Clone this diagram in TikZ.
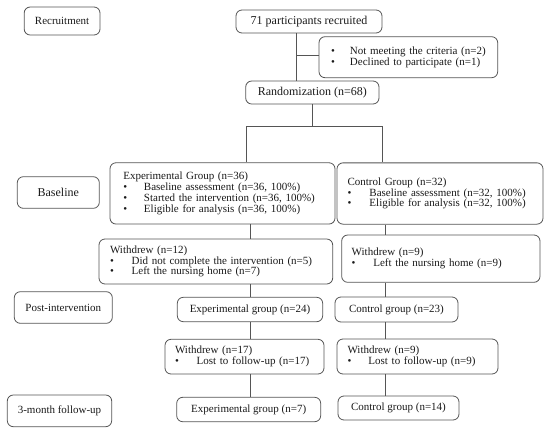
\documentclass[tikz,border=0pt]{standalone}
\usepackage{fontspec}
\setmainfont{Liberation Serif}
\definecolor{edge}{HTML}{555555}
\definecolor{ink}{HTML}{1A1A1A}
\newcommand{\bl}[2][21pt]{\mbox{\makebox[#1][l]{\textbullet}#2}}
\begin{document}
\begin{tikzpicture}[x=1pt,y=-1pt,
  box/.style={draw=edge,line width=0.8pt,rounded corners=6pt,text=ink,inner sep=0pt,
    font=\fontsize{11}{10.7}\selectfont},
  big/.style={font=\fontsize{12}{13}\selectfont},
  lbox/.style={box,align=left},
  conn/.style={draw=edge,line width=0.8pt}]
\useasboundingbox (0,0) rectangle (550,432);
% stage labels
\node[box,minimum width=75.8pt,minimum height=28pt] (rec) at (62.1,21) {Recruitment};
\node[box,big,minimum width=82pt,minimum height=31.6pt] (base) at (58.3,192.5) {Baseline};
\node[box,minimum width=98pt,minimum height=31.6pt] (post) at (63.3,307.5) {Post-intervention};
\node[box,minimum width=104.4pt,minimum height=31.7pt] (fu) at (59.5,410.85) {3-month follow-up};
% flow
\node[box,big,minimum width=146pt,minimum height=23pt] (p71) at (309,21.5) {71 participants recruited};
\node[lbox,minimum height=41pt,inner xsep=12pt,text width=154.7pt] (excl) at (408.35,57.2)
  {\bl[19pt]{Not meeting the criteria (n=2)}\\\bl[19pt]{Declined to participate (n=1)}};
\node[box,big,minimum width=133.3pt,minimum height=23pt] (rand) at (312.35,92.5) {Randomization (n=68)};
\node[lbox,minimum height=61.3pt,inner xsep=13.3pt,text width=198.4pt] (exp) at (222.5,193.4)
  {Experimental Group (n=36)\\\bl[20.7pt]{Baseline assessment (n=36, 100\%)}\\\bl[20.7pt]{Started the intervention (n=36, 100\%)}\\\bl[20.7pt]{Eligible for analysis (n=36, 100\%)}};
\node[lbox,minimum height=61.3pt,inner xsep=10.5pt,text width=185pt] (ctl) at (440,193.5)
  {Control Group (n=32)\\\bl[22pt]{Baseline assessment (n=32, 100\%)}\\\bl[22pt]{Eligible for analysis (n=32, 100\%)}};
\node[lbox,minimum height=45pt,inner xsep=11pt,text width=211.7pt] (w12) at (215.85,261.5)
  {Withdrew (n=12)\\\bl[21.7pt]{Did not complete the intervention (n=5)}\\\bl[21.7pt]{Left the nursing home (n=7)}};
\node[lbox,minimum height=47.3pt,inner xsep=10pt,text width=178.3pt] (w9) at (440.85,258.65)
  {Withdrew (n=9)\\\bl[21.6pt]{Left the nursing home (n=9)}};
\node[box,minimum width=145.4pt,minimum height=24.4pt] (e24) at (250,309.5) {Experimental group (n=24)};
\node[box,minimum width=123pt,minimum height=25pt] (c23) at (396.5,309.5) {Control group (n=23)};
\node[lbox,minimum height=34.7pt,inner xsep=10pt,text width=139pt] (w17) at (244.5,356.65)
  {Withdrew (n=17)\\\bl[21.7pt]{Lost to follow-up (n=17)}};
\node[lbox,minimum height=35pt,inner xsep=10.5pt,text width=140pt] (w9b) at (417.5,356.5)
  {Withdrew (n=9)\\\bl[21pt]{Lost to follow-up (n=9)}};
\node[box,minimum width=144pt,minimum height=24.4pt] (e7) at (248.7,409.5) {Experimental group (n=7)};
\node[box,minimum width=121pt,minimum height=24pt] (c14) at (398.5,408) {Control group (n=14)};
% connector helpers
\coordinate (trunk) at (296.7,55);
\coordinate (splitL) at (246,126);
\coordinate (splitR) at (382,126);
\coordinate (colA) at (250.7,0);
\coordinate (colB) at (385,0);
% connectors
\draw[conn] (p71.south -| trunk) -- (rand.north -| trunk);
\draw[conn] (trunk) -- (excl.west |- trunk);
\draw[conn] (rand.south) -- (rand.south |- splitL);
\draw[conn] (exp.north -| splitL) -- (splitL) -- (splitR) -- (ctl.north -| splitR);
\draw[conn] (exp.south -| colA) -- (w12.north -| colA);
\draw[conn] (w12.south -| colA) -- (e24.north -| colA);
\draw[conn] (e24.south -| colA) -- (w17.north -| colA);
\draw[conn] (w17.south -| colA) -- (e7.north -| colA);
\draw[conn] (ctl.south -| colB) -- (w9.north -| colB);
\draw[conn] (w9.south -| colB) -- (c23.north -| colB);
\draw[conn] (c23.south -| colB) -- (w9b.north -| colB);
\draw[conn] (w9b.south -| colB) -- (c14.north -| colB);
\end{tikzpicture}
\end{document}
